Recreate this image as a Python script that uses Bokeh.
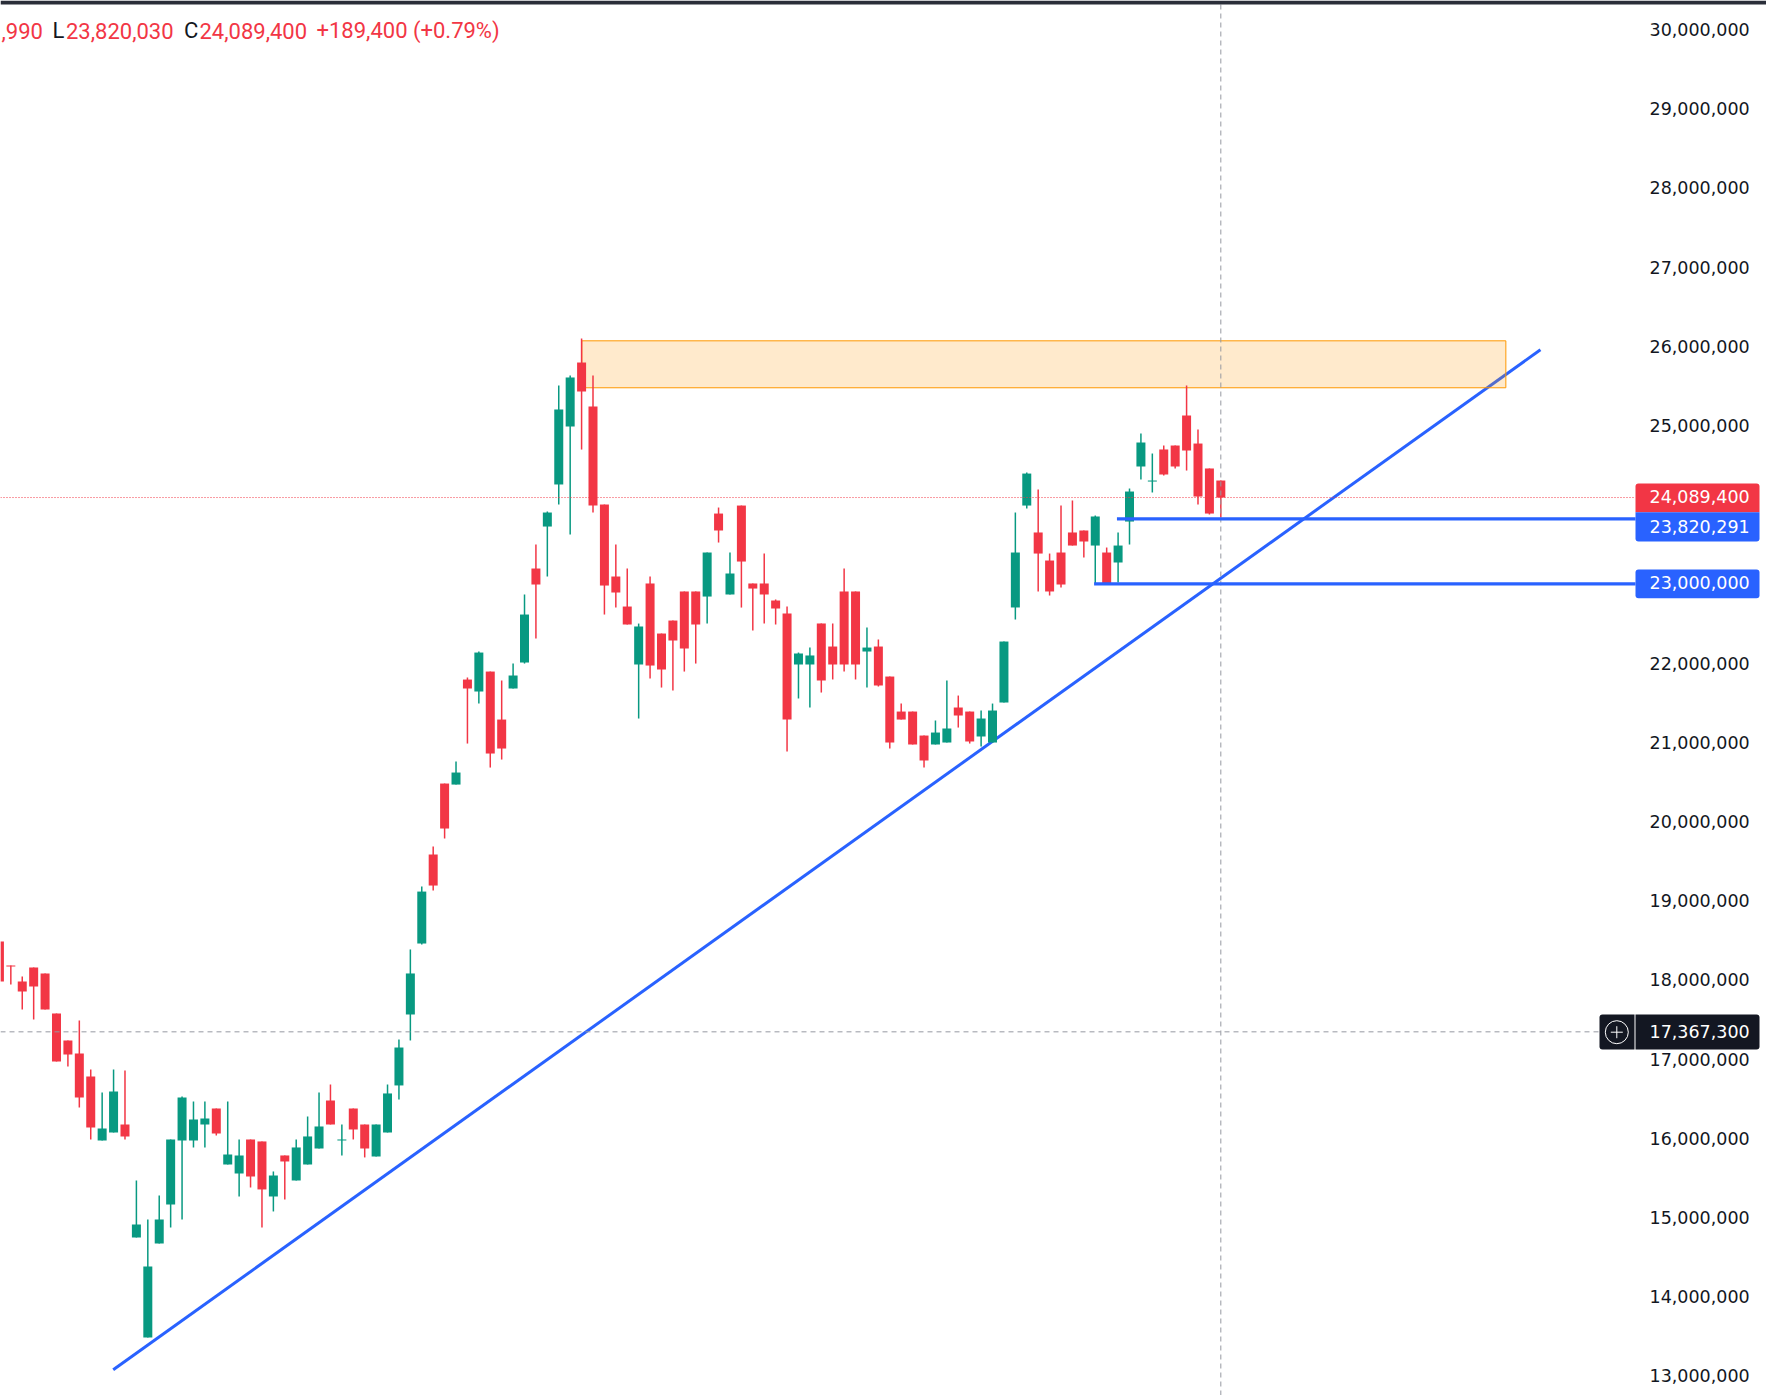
from bokeh.plotting import figure
from bokeh.models import Label, Range1d, FixedTicker, NumeralTickFormatter, BoxAnnotation, LinearAxis
from bokeh.embed import file_html
from bokeh.resources import INLINE

# OHLC in millions
opens = [18.484,18.181,17.979,18.156,18.080,17.575,17.234,17.070,16.779,15.971,
         16.072,16.173,14.746,13.484,14.671,15.163,15.971,15.971,16.173,16.375,
         15.668,15.555,15.984,15.959,15.264,15.782,15.466,15.668,15.870,16.476,
         15.971,16.375,16.173,15.769,16.072,16.666,17.562,18.458,19.582,20.478,
         20.465,21.791,21.640,21.892,21.286,21.678,22.006,23.193,23.723,24.254,
         24.986,25.794,25.238,24.001,23.092,22.713,21.981,23.004,22.372,22.536,
         22.903,22.903,22.839,23.887,22.865,23.988,23.004,23.004,22.789,22.625,
         21.981,21.981,22.499,22.208,22.903,22.903,22.145,22.208,21.829,21.387,
         21.387,21.084,20.971,20.996,21.438,21.387,21.072,20.996,21.501,22.701,
         23.988,23.648,23.294,23.395,23.648,23.673,23.483,23.395,23.269,23.786,
         24.481,24.291,24.696,24.746,25.125,24.771,24.456,24.304]
highs = [18.484,18.181,18.042,18.156,18.080,17.575,17.234,17.486,16.868,16.577,
         16.868,16.855,15.466,14.974,15.277,15.984,16.527,16.464,16.464,16.375,
         16.464,15.984,15.984,15.959,15.580,15.782,15.984,16.274,16.577,16.678,
         16.173,16.375,16.173,16.173,16.678,17.246,18.383,19.178,19.683,20.478,
         20.756,21.817,22.145,21.892,21.779,21.993,22.865,23.496,23.913,25.504,
         25.630,26.097,25.630,24.001,23.496,23.193,22.498,23.092,22.372,22.536,
         22.903,22.903,23.395,23.963,23.395,23.988,23.004,23.382,22.802,22.713,
         22.132,22.195,22.499,22.499,23.193,22.903,22.448,22.297,21.829,21.488,
         21.387,21.084,21.274,21.779,21.589,21.387,21.400,21.488,22.271,23.900,
         24.405,24.190,23.382,23.988,24.052,23.673,23.862,23.458,23.648,24.203,
         24.898,24.645,24.746,24.746,25.504,24.948,24.456,24.304]
lows = [17.979,17.941,17.625,17.499,17.625,16.969,16.906,16.388,15.984,15.971,
        16.072,15.984,14.746,13.484,14.671,14.873,14.974,15.883,15.883,16.034,
        15.668,15.264,15.378,14.873,15.075,15.226,15.466,15.668,15.870,16.173,
        15.782,15.984,15.757,15.769,16.072,16.489,17.234,18.445,19.127,19.784,
        20.465,20.983,21.488,20.680,20.781,21.678,21.993,22.309,23.092,24.001,
        23.622,24.695,23.900,22.612,22.700,22.486,21.299,21.804,21.690,21.653,
        21.892,21.993,22.498,23.521,22.865,22.700,22.410,22.498,22.486,20.882,
        21.552,21.438,21.627,21.792,21.892,21.792,21.690,21.703,20.920,21.286,
        20.971,20.680,20.971,20.996,21.185,20.983,20.946,20.996,21.501,22.549,
        23.951,22.903,22.852,22.953,23.483,23.332,22.991,22.991,23.016,23.496,
        24.317,24.153,24.367,24.456,24.430,24.001,23.875,23.837]
closes = [17.979,18.168,17.853,17.916,17.625,16.969,17.057,16.514,16.135,16.123,
          16.590,16.022,14.911,14.380,14.974,15.984,16.514,16.236,16.249,16.060,
          15.794,15.782,15.517,15.353,15.529,15.706,15.883,16.022,16.148,16.173,
          15.984,16.110,15.870,16.173,16.565,17.145,18.080,19.114,19.190,19.910,
          20.617,21.678,22.132,20.857,20.920,21.842,22.612,22.991,23.900,25.201,
          25.605,25.428,23.988,22.978,22.890,22.486,22.461,21.968,21.918,22.284,
          22.183,22.486,23.395,23.673,23.130,23.281,22.940,22.865,22.688,21.286,
          22.120,22.095,21.779,21.981,21.981,21.981,22.195,21.716,20.996,21.286,
          20.971,20.769,21.122,21.173,21.337,21.009,21.299,21.400,22.271,23.395,
          24.392,23.382,22.903,22.991,23.483,23.534,23.850,22.991,23.483,24.165,
          24.784,24.304,24.380,24.481,24.683,24.102,23.887,24.089]

tick_values = [13,14,15,16,17,18,19,20,21,22,25,26,27,28,29,30]  # millions
last_price = 24.0894
level_a = 23.820291
level_b = 23.0
crosshair_price = 17.343
crosshair_bar = 107
zone_bar_start, zone_bar_end = 51.02, 131.97
zone_top, zone_bottom = 26.068, 25.475
trend_bars = [9.97, 135.0]
trend_prices = [13.076, 25.955]
level_a_start, level_b_start = 97.9, 95.9

RED, GREEN, BLUE, ORANGE = "#F23645", "#089981", "#2962FF", "#FF9800"
INK, GREY = "#131722", "#9598A1"

W, H = 1766, 1395
PX_BAR = 11.415          # pixels per bar
PX_MILLION = 79.2        # pixels per million
BAR0 = 1.08 / PX_BAR     # bar index at the left edge of the picture
TOP = 23 + 583.3 / PX_MILLION

def bx(px):
    return BAR0 + px / PX_BAR

def py(px):
    return (TOP - px / PX_MILLION) * 1e6

p = figure(width=W, height=H, output_backend="svg", toolbar_location=None,
           y_axis_location=None, x_axis_location=None,
           x_range=Range1d(bx(0), bx(W)), y_range=Range1d(py(H), py(0)),
           min_border=0, outline_line_color=None)
p.grid.visible = False
ax = LinearAxis(fixed_location=bx(1635))
ax.ticker = FixedTicker(ticks=[t * 1e6 for t in tick_values])
ax.formatter = NumeralTickFormatter(format="0,0")
ax.axis_line_color = None
ax.major_tick_line_color = None
ax.minor_tick_line_color = None
ax.major_label_standoff = 8
ax.major_label_text_font = "DejaVu Sans"
ax.major_label_text_font_size = "17.5px"
ax.major_label_text_color = INK
p.add_layout(ax, "right")

M = 1e6
# trend and zone sit under the candles
p.line(trend_bars, [v * M for v in trend_prices], color=BLUE, line_width=3)
p.quad(left=[zone_bar_start], right=[zone_bar_end], top=[zone_top * M], bottom=[zone_bottom * M],
       fill_color=ORANGE, fill_alpha=0.2, line_color=ORANGE, line_width=1)

idx = list(range(len(opens)))
colors = [GREEN if c >= o else RED for o, c in zip(opens, closes)]
p.segment(idx, [h * M for h in highs], idx, [l * M for l in lows], color=colors, line_width=1.5)
p.vbar(idx, top=[max(o, c) * M for o, c in zip(opens, closes)],
       bottom=[min(o, c) * M for o, c in zip(opens, closes)],
       width=9 / PX_BAR, fill_color=colors, line_color=None)

# last price dotted line
p.line([bx(0), bx(1635)], [last_price * M] * 2, color=RED, line_width=1, line_dash="1 2")
# crosshair
p.line([bx(0), bx(1600)], [crosshair_price * M] * 2, color=GREY, line_width=1, line_dash="5 4")
p.line([crosshair_bar] * 2, [py(H), py(0)], color=GREY, line_width=1, line_dash="5 4")
# levels
p.line([level_a_start, bx(1635)], [level_a * M] * 2, color=BLUE, line_width=3.2)
p.line([level_b_start, bx(1635)], [level_b * M] * 2, color=BLUE, line_width=3.2)

# top bar
p.add_layout(BoxAnnotation(left=bx(0), right=bx(W), top=py(0), bottom=py(4),
                           fill_color="#2A2E39", fill_alpha=1, line_color=None))

# legend text
def header(text, px, color):
    p.add_layout(Label(x=bx(px), y=py(30.4), text=text, text_color=color, text_font="Roboto",
                       text_font_size="22px", text_baseline="middle", text_align="left"))

header(",990", 1, RED)
header("L", 52, INK)
header("23,820,030", 65.5, RED)
header("C", 183.5, INK)
header("24,089,400", 199, RED)
header("+189,400 (+0.79%)", 316, RED)

# price tags
def tag(text, top_px, bottom_px, text_px, color, radius):
    p.add_layout(BoxAnnotation(left=bx(1635), right=bx(1759), top=py(top_px), bottom=py(bottom_px),
                               fill_color=color, fill_alpha=1, line_color=None, border_radius=radius))
    p.add_layout(Label(x=bx(1649), y=py(text_px), text=text, text_color="white",
                       text_font="DejaVu Sans", text_font_size="17.5px", text_align="left",
                       text_baseline="middle"))

tag("24,089,400", 483, 511.7, 496, RED, (3, 3, 0, 0))
tag("23,820,291", 511.7, 541, 526, BLUE, (0, 0, 3, 3))
tag("23,000,000", 569, 597.7, 582.3, BLUE, 3)
tag("17,367,300", 1014, 1049, 1030.7, INK, (0, 3, 3, 0))

# crosshair button
p.add_layout(BoxAnnotation(left=bx(1599), right=bx(1634), top=py(1014), bottom=py(1049),
                           fill_color=INK, fill_alpha=1, line_color=None, border_radius=(3, 0, 0, 3)))
p.scatter([bx(1616.3)], [py(1031.7)], marker="circle", size=23, fill_color=None,
          line_color="white", line_width=1, level="overlay")
p.scatter([bx(1616.3)], [py(1031.7)], marker="cross", size=12, line_color="white",
          line_width=1, level="overlay")

open("out.html", "w").write(file_html(p, INLINE))
